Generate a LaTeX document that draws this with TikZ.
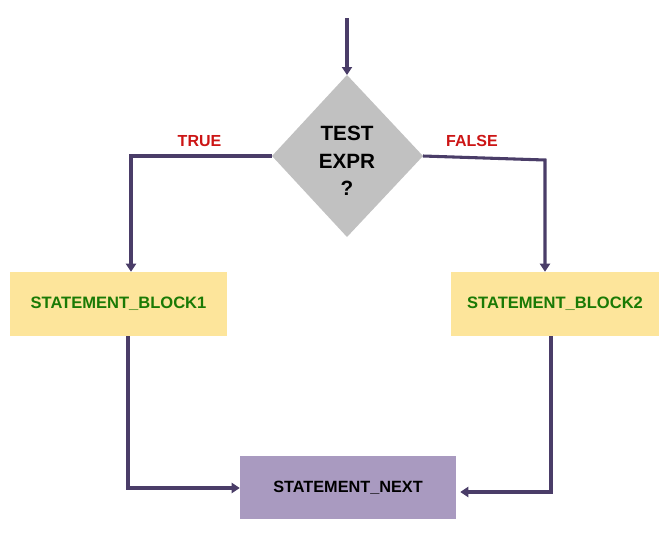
\documentclass[tikz,border=0pt]{standalone}
\usepackage{fontspec}
\setmainfont{Liberation Sans}
\usetikzlibrary{shapes.geometric,arrows.meta}
\definecolor{linec}{HTML}{4A3D68}
\definecolor{yel}{HTML}{FDE59B}
\definecolor{pur}{HTML}{A99AC0}
\definecolor{gry}{HTML}{C1C1C1}
\definecolor{redt}{HTML}{CC1515}
\definecolor{grnt}{HTML}{1A7A05}
\begin{document}
\begin{tikzpicture}[x=0.75pt,y=-0.75pt,
  conn/.style={draw=linec,line width=2.3pt,line join=miter,-{Triangle[length=6pt,width=7.5pt]}},
  ybox/.style={fill=yel,draw=none,minimum height=48pt,inner sep=0pt,font=\bfseries\fontsize{12.4}{14}\selectfont,text=grnt},
  pbox/.style={fill=pur,draw=none,minimum width=162pt,minimum height=47pt,inner sep=0pt,font=\bfseries\fontsize{12.2}{14}\selectfont,text=black},
  lbl/.style={font=\bfseries\fontsize{12}{14}\selectfont,text=redt}]
\useasboundingbox (0,0) rectangle (670,532);
\path[fill=gry] (347,75) -- (423,156) -- (347,237) -- (272,156) -- cycle;
\coordinate (dtop) at (347,75);
\coordinate (dl) at (272,156);
\coordinate (dr) at (423,156);
\node[align=center,font=\bfseries\fontsize{15.5}{20.5}\selectfont] (d) at (347,161) {TEST\\EXPR\\?};
\coordinate (start) at (347,18);
\node[ybox,minimum width=163pt] (b1) at (118.5,304) {STATEMENT\_BLOCK1};
\node[ybox,minimum width=156pt] (b2) at (555,304) {STATEMENT\_BLOCK2};
\node[pbox] (n) at (348,487.5) {STATEMENT\_NEXT};
\coordinate (tl) at (131,156);
\coordinate (fr) at (545,160);
\coordinate (b1o) at (128,336);
\coordinate (b2o) at (551,336);
\draw[conn] (start) -- (dtop);
\draw[conn] (dl) -- (tl) -- (tl |- b1.north);
\draw[conn] (dr) -- (fr) -- (fr |- b2.north);
\draw[conn] (b1o) |- (n.west |- 0,488);
\draw[conn] (b2o) |- ([xshift=3pt]n.east |- 0,492);
\node[lbl] (t) at (199.5,141) {TRUE};
\node[lbl] (f) at (472,141) {FALSE};
\end{tikzpicture}
\end{document}
